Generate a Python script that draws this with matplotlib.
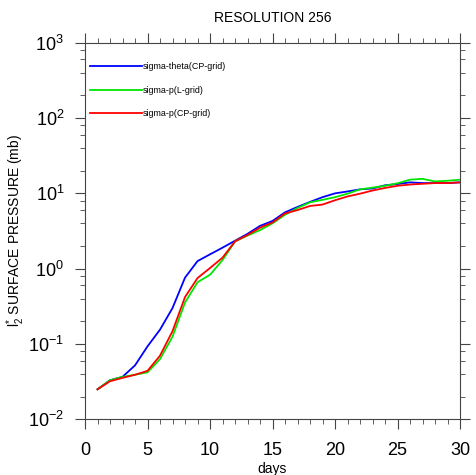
import matplotlib
matplotlib.use("Agg")
import matplotlib.pyplot as plt
import numpy as np
from matplotlib.ticker import LogLocator, MultipleLocator, NullFormatter

plt.rcParams['font.family'] = ['Liberation Sans', 'DejaVu Sans']
plt.rcParams['mathtext.default'] = 'regular'

days = np.arange(1, 31)

sigma_theta_cp = [0.025, 0.033, 0.0366, 0.052, 0.093, 0.155, 0.30, 0.76, 1.26, 1.55,
                  1.9, 2.35, 2.9, 3.7, 4.3, 5.6, 6.6, 7.7, 8.9, 10.0,
                  10.6, 11.3, 11.6, 12.8, 13.3, 14.0, 13.7, 13.7, 13.7, 14.0]
sigma_p_l = [0.025, 0.033, 0.0366, 0.039, 0.042, 0.063, 0.125, 0.355, 0.66, 0.83,
             1.3, 2.3, 2.75, 3.25, 4.0, 5.2, 6.4, 7.6, 8.2, 8.9,
             9.9, 11.3, 11.9, 12.6, 13.6, 15.2, 15.6, 14.4, 14.7, 15.2]
sigma_p_cp = [0.025, 0.032, 0.0355, 0.039, 0.044, 0.07, 0.148, 0.42, 0.75, 1.02,
              1.4, 2.3, 2.8, 3.5, 4.1, 5.4, 6.0, 6.8, 7.1, 8.1,
              9.1, 9.9, 10.9, 11.8, 12.6, 13.1, 13.4, 13.7, 13.7, 14.0]

labels = ['sigma-theta(CP-grid)', 'sigma-p(L-grid)', 'sigma-p(CP-grid)']
colors = ['#0000ff', '#00e600', '#ff0000']

fig = plt.figure(figsize=(4.76, 4.75), dpi=100, facecolor="white")
ax = fig.add_axes([0.1786, 0.1173, 0.9664 - 0.1786, 0.910 - 0.1173])

for series, lab, col in zip([sigma_theta_cp, sigma_p_l, sigma_p_cp], labels, colors):
    ax.plot(days, series, color=col, lw=1.3, label=lab)

ax.set_yscale('log')
ax.set_xlim(0, 30)
ax.set_ylim(1e-2, 1e3)
ax.xaxis.set_major_locator(MultipleLocator(5))
ax.xaxis.set_minor_locator(MultipleLocator(1))
ax.yaxis.set_major_locator(LogLocator(base=10, numticks=10))
ax.yaxis.set_minor_locator(LogLocator(base=10, subs=(2, 4, 6, 8), numticks=10))
ax.yaxis.set_minor_formatter(NullFormatter())

ax.tick_params(which='both', direction='out', top=True, right=True, color='#444444')
ax.tick_params(which='major', length=7, width=0.8)
ax.tick_params(which='minor', length=3.5, width=0.6)
ax.tick_params(axis='x', which='major', labelsize=13, pad=9.5)
ax.tick_params(axis='y', which='major', labelsize=13, pad=8)
for sp in ax.spines.values():
    sp.set_color('#444444')
    sp.set_linewidth(0.8)

ax.set_title('RESOLUTION 256', fontsize=10, pad=15)
ax.set_xlabel('days', fontsize=10, labelpad=2)
ax.set_ylabel(r'$l_2^{*}$ SURFACE PRESSURE (mb)', fontsize=10)
ax.yaxis.set_label_coords(-0.155, 0.5)

leg = ax.legend(loc='upper left', bbox_to_anchor=(0.0, 0.962), frameon=False,
                fontsize=6.4, handlelength=5.8, handletextpad=0.05,
                labelspacing=1.6, borderaxespad=0.2)

fig.savefig('out.png', dpi=100, facecolor='white')
